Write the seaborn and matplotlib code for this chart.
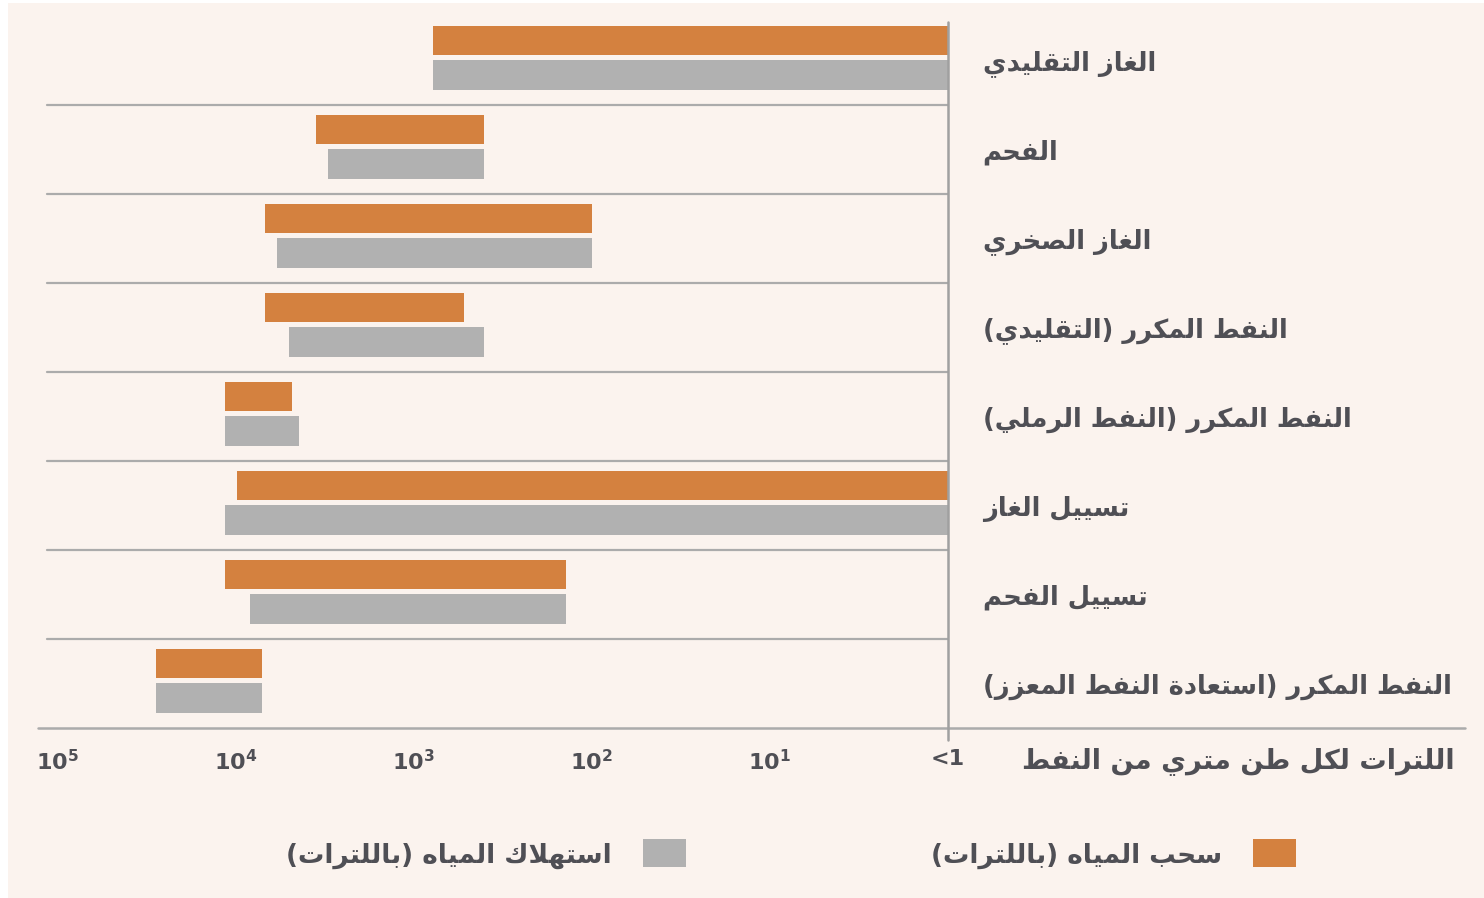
import numpy as np
import seaborn as sns
import matplotlib.pyplot as plt
from matplotlib.patches import Patch, Rectangle

# ---- data (litres per metric tonne of oil) ----
categories = [
    "الغاز التقليدي",
    "الفحم",
    "الغاز الصخري",
    "النفط المكرر (التقليدي)",
    "النفط المكرر (النفط الرملي)",
    "تسييل الغاز",
    "تسييل الفحم",
    "النفط المكرر (استعادة النفط المعزز)",
]
withdraw_low = [1, 400, 100, 520, 4800, 1, 140, 7100]
withdraw_high = [780, 3500, 6800, 6800, 11400, 9800, 11400, 28000]
consume_low = [1, 400, 100, 400, 4400, 1, 140, 7100]
consume_high = [780, 3000, 5800, 5000, 11400, 11400, 8300, 28000]

tick_values = [1e5, 1e4, 1e3, 1e2, 1e1, 1]
tick_labels = [r"$\mathbf{10^{5}}$", r"$\mathbf{10^{4}}$", r"$\mathbf{10^{3}}$",
               r"$\mathbf{10^{2}}$", r"$\mathbf{10^{1}}$", "<1"]

axis_title = "اللترات لكل طن متري من النفط"
legend_withdraw = "سحب المياه (باللترات)"
legend_consume = "استهلاك المياه (باللترات)"

ORANGE = "#D4813F"
GREY = "#B1B1B1"
BG = "#FBF3EE"
LINE = "#ABABAB"
TEXT = "#4F4F55"

# ---- tiny arabic shaper (matplotlib has no bidi / joining) ----
FORMS = {}
for ch, code, n in [
    ("ء", 0xFE80, 1), ("آ", 0xFE81, 2), ("أ", 0xFE83, 2), ("ؤ", 0xFE85, 2),
    ("إ", 0xFE87, 2), ("ئ", 0xFE89, 4), ("ا", 0xFE8D, 2), ("ب", 0xFE8F, 4),
    ("ة", 0xFE93, 2), ("ت", 0xFE95, 4), ("ث", 0xFE99, 4), ("ج", 0xFE9D, 4),
    ("ح", 0xFEA1, 4), ("خ", 0xFEA5, 4), ("د", 0xFEA9, 2), ("ذ", 0xFEAB, 2),
    ("ر", 0xFEAD, 2), ("ز", 0xFEAF, 2), ("س", 0xFEB1, 4), ("ش", 0xFEB5, 4),
    ("ص", 0xFEB9, 4), ("ض", 0xFEBD, 4), ("ط", 0xFEC1, 4), ("ظ", 0xFEC5, 4),
    ("ع", 0xFEC9, 4), ("غ", 0xFECD, 4), ("ف", 0xFED1, 4), ("ق", 0xFED5, 4),
    ("ك", 0xFED9, 4), ("ل", 0xFEDD, 4), ("م", 0xFEE1, 4), ("ن", 0xFEE5, 4),
    ("ه", 0xFEE9, 4), ("و", 0xFEED, 2), ("ى", 0xFEEF, 2), ("ي", 0xFEF1, 4),
    ("لا", 0xFEFB, 2),
]:
    FORMS[ch] = [chr(code + i) for i in range(n)]


def ar(text):
    tokens = []
    i = 0
    while i < len(text):
        if text[i:i + 2] == "لا":
            tokens.append("لا")
            i += 2
        else:
            tokens.append(text[i])
            i += 1
    out = []
    for k, t in enumerate(tokens):
        forms = FORMS.get(t)
        if forms is None:
            out.append(t)
            continue
        prev = FORMS.get(tokens[k - 1]) if k > 0 else None
        nxt = FORMS.get(tokens[k + 1]) if k + 1 < len(tokens) else None
        join_prev = prev is not None and len(prev) == 4
        join_next = nxt is not None and len(forms) == 4
        if join_prev and join_next:
            out.append(forms[3])
        elif join_prev:
            out.append(forms[1])
        elif join_next:
            out.append(forms[2])
        else:
            out.append(forms[0])
    return "".join(out)[::-1].translate(str.maketrans("()", ")("))


sns.set_theme(style="white")
plt.rcParams["font.family"] = ["DejaVu Sans"]
plt.rcParams["mathtext.fontset"] = "dejavusans"

W, H = 1484, 898
fig = plt.figure(figsize=(W / 100, H / 100), dpi=100, facecolor="white")
fig.patches.append(Rectangle((8 / W, 0), 1, 1 - 3 / H, transform=fig.transFigure,
                             facecolor=BG, edgecolor="none", zorder=-10))

ax_l, ax_r, ax_t, ax_b = 38, 948, 16, 728
ax = fig.add_axes([ax_l / W, 1 - ax_b / H, (ax_r - ax_l) / W, (ax_b - ax_t) / H])
ax.patch.set_alpha(0)

y = np.arange(len(categories))
bh = 0.335
wl, wh = np.array(withdraw_low), np.array(withdraw_high)
cl, chh = np.array(consume_low), np.array(consume_high)
ax.barh(y - 0.225, wh - wl, left=wl, height=bh, color=ORANGE, edgecolor="none")
ax.barh(y + 0.16, chh - cl, left=cl, height=bh, color=GREY, edgecolor="none")

ax.set_xscale("log")
ax.set_xlim(10 ** ((ax_r - ax_l) / 178.2), 1)
ax.set_ylim(len(categories) - 0.5, -0.5)

# row separators
sep_x0 = (47 - ax_l) / (ax_r - ax_l)
for yy in np.arange(0.5, len(categories) - 0.5, 1.0):
    ax.axhline(yy, xmin=sep_x0, xmax=1, color=LINE, lw=1.6, zorder=0)
ax.axhline(len(categories) - 0.5, xmin=0, xmax=(1465 - ax_l) / (ax_r - ax_l),
           color=LINE, lw=1.8, clip_on=False)
ax.axvline(1, ymin=-12 / (ax_b - ax_t), ymax=1 - 6 / (ax_b - ax_t),
           color="#A0A0A0", lw=1.8, clip_on=False)

ax.set_xticks(tick_values)
ax.set_xticklabels(tick_labels)
ax.xaxis.set_minor_locator(plt.NullLocator())
ax.tick_params(axis="x", length=0, pad=15, labelsize=16, labelcolor=TEXT)
for lab in ax.get_xticklabels():
    lab.set_fontweight("bold")

ax.yaxis.tick_right()
ax.set_yticks(y)
ax.set_yticklabels([ar(c) for c in categories])
ax.tick_params(axis="y", length=0, pad=25, labelsize=18.5, labelcolor=TEXT)
for lab in ax.get_yticklabels():
    lab.set_horizontalalignment("left")
    lab.set_fontweight("bold")

sns.despine(ax=ax, left=True, right=True, top=True, bottom=True)

fig.text(1455 / W, 1 - 762 / H, ar(axis_title), ha="right", va="center",
         fontsize=19.5, fontweight="bold", color=TEXT)

handles = [Patch(facecolor=GREY, edgecolor="none", label=ar(legend_consume)),
           Patch(facecolor=ORANGE, edgecolor="none", label=ar(legend_withdraw))]
fig.legend(handles=handles, loc="center right", bbox_to_anchor=(1296 / W, 1 - 854 / H),
           ncol=2, frameon=False, markerfirst=False,
           prop={"size": 19, "weight": "bold"},
           handlelength=1.63, handleheight=1.255, handletextpad=1.17,
           columnspacing=9.3, labelcolor=TEXT, borderpad=0, borderaxespad=0)

fig.savefig("out.png", dpi=100, facecolor="white")
